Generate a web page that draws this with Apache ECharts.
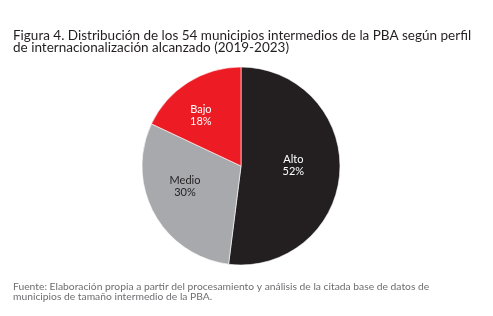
<!DOCTYPE html>
<html>
<head>
<meta charset="utf-8">
<script src="https://cdn.jsdelivr.net/npm/echarts@6/dist/echarts.min.js"></script>
<style>
html, body { margin: 0; padding: 0; background: #fff; }
#chart { width: 493px; height: 316px; }
</style>
</head>
<body>
<div id="chart"></div>
<script>
// datos
var categorias = ['Alto', 'Medio', 'Bajo'];
var valores = [52, 30, 18];
var colores = ['#231f20', '#a7a9ac', '#ed1c24'];
var colorTexto = ['#ffffff', '#231f20', '#ffffff'];
var desplazamiento = [[0, -4], [-10, -5], [-12, -6]];

var myChart = echarts.init(document.getElementById('chart'));

var datos = [];
for (var i = 0; i < categorias.length; i++) {
    datos.push({
        name: categorias[i],
        value: valores[i],
        itemStyle: { color: colores[i] },
        label: { color: colorTexto[i], offset: desplazamiento[i] }
    });
}

var option = {
    backgroundColor: '#ffffff',
    animation: false,
    title: [{
        text: 'Figura 4. Distribución de los 54 municipios intermedios de la PBA según perfil\nde internacionalización alcanzado (2019-2023)',
        left: 8,
        top: 25,
        textStyle: {
            fontFamily: 'Lato',
            fontWeight: 'normal',
            fontSize: 13.5,
            lineHeight: 12,
            color: '#231f20'
        }
    }, {
        text: 'Fuente: Elaboración propia a partir del procesamiento y análisis de la citada base de datos de\nmunicipios de tamaño intermedio de la PBA.',
        left: 8,
        top: 277,
        textStyle: {
            fontFamily: 'Lato',
            fontWeight: 'normal',
            fontSize: 10.3,
            lineHeight: 10,
            color: '#6d6e71'
        }
    }],
    series: [{
        type: 'pie',
        center: [241, 166],
        radius: [0, 99],
        startAngle: 90,
        clockwise: true,
        itemStyle: { borderColor: '#ffffff', borderWidth: 0.6 },
        label: {
            position: 'inner',
            formatter: '{b}\n{c}%',
            fontFamily: 'Lato',
            fontSize: 11,
            lineHeight: 12
        },
        labelLine: { show: false },
        emphasis: { disabled: true },
        data: datos
    }]
};

myChart.setOption(option);
</script>
</body>
</html>
